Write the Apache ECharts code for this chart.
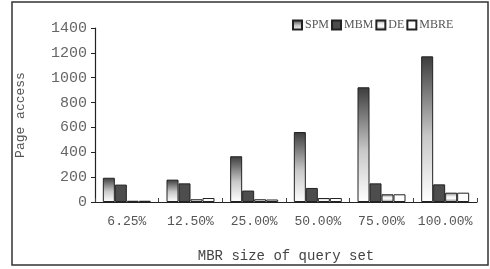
<!DOCTYPE html>
<html><head><meta charset="utf-8">
<script src="https://cdn.jsdelivr.net/npm/echarts@6/dist/echarts.min.js"></script>
<style>html,body{margin:0;padding:0;background:#fff}#c{width:490px;height:269px}</style>
</head><body><div id="c"></div>
<script>
const categories = ['6.25%', '12.50%', '25.00%', '50.00%', '75.00%', '100.00%'];
const seriesNames = ['SPM', 'MBM', 'DE', 'MBRE'];
const spm = [195, 180, 368, 563, 923, 1172];
const mbm = [140, 150, 92, 113, 150, 142];
const de = [10, 22, 22, 32, 62, 75];
const mbre = [10, 32, 20, 32, 62, 75];
const yTicks = [0, 200, 400, 600, 800, 1000, 1200, 1400];

const G = echarts.graphic;
const fills = [
  new G.LinearGradient(0, 0, 0, 1, [{offset: 0, color: '#3c3c3c'}, {offset: 0.55, color: '#c8c8c8'}, {offset: 1, color: '#ffffff'}]),
  '#4d4d4d',
  new G.LinearGradient(0, 0, 0, 1, [{offset: 0, color: '#777'}, {offset: 0.35, color: '#e8e8e8'}, {offset: 0.6, color: '#ffffff'}, {offset: 1, color: '#888'}]),
  '#ffffff'
];
const dataArr = [spm, mbm, de, mbre];
const chart = echarts.init(document.getElementById('c'), null, {renderer: 'canvas'});
chart.setOption({
  animation: false,
  backgroundColor: '#fff',
  graphic: [{type: 'rect', shape: {x: 12, y: 2, width: 476, height: 263}, style: {fill: 'none', stroke: '#333', lineWidth: 1.5}, z: -1}],
  legend: {
    left: 287, top: 14, itemWidth: 9, itemHeight: 9, itemGap: 2, icon: 'rect',
    textStyle: {fontFamily: 'Liberation Serif', fontSize: 12, color: '#555', padding: [0, 0, 0, -2]},
    data: seriesNames
  },
  grid: {left: 95, right: 13, top: 28, bottom: 67, containLabel: false},
  xAxis: {
    type: 'category', data: categories,
    name: 'MBR size of query set', nameLocation: 'middle', nameGap: 47,
    nameTextStyle: {fontFamily: 'Liberation Mono', fontSize: 14, color: '#444'},
    axisLine: {lineStyle: {color: '#222', width: 1.2}},
    axisTick: {show: true, inside: true, length: 4, alignWithLabel: false, lineStyle: {color: '#444'}},
    axisLabel: {interval: 0, fontFamily: 'Liberation Mono', fontSize: 13, color: '#555', margin: 13}
  },
  yAxis: {
    type: 'value', min: 0, max: 1400, interval: 200,
    name: 'Page access', nameLocation: 'middle', nameGap: 68, nameRotate: 90,
    nameTextStyle: {fontFamily: 'Liberation Mono', fontSize: 13, color: '#555'},
    axisLine: {show: true, lineStyle: {color: '#222', width: 1.2}},
    axisTick: {show: true, length: 4, lineStyle: {color: '#222'}},
    splitLine: {show: false},
    axisLabel: {fontFamily: 'Liberation Mono', fontSize: 15, color: '#666', margin: 8,
      formatter: v => yTicks.includes(v) ? String(v) : ''}
  },
  series: seriesNames.map((n, i) => ({
    name: n, type: 'bar', data: dataArr[i], barWidth: 12, barGap: '0%',
    itemStyle: {color: fills[i], borderColor: '#222', borderWidth: 1}
  }))
});
</script></body></html>
